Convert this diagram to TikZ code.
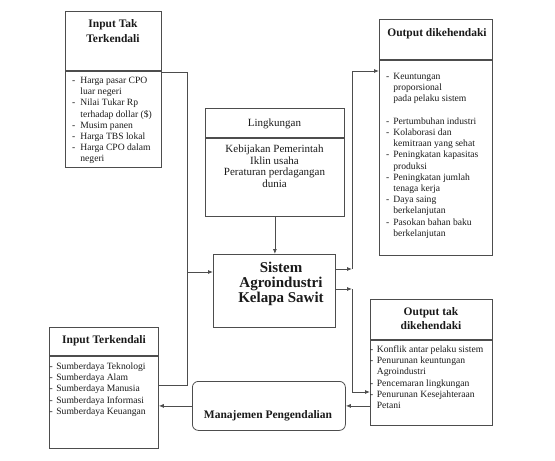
\documentclass[tikz,border=0pt]{standalone}
\usepackage{fontspec}
\setmainfont{Liberation Serif}
\usetikzlibrary{arrows.meta}
\definecolor{ink}{HTML}{4d4d4d}
\definecolor{txt}{HTML}{1a1a1a}
\tikzset{frm/.style={draw=ink, line width=0.8pt, inner sep=0pt, anchor=north west},
         ttl/.style={font=\fontsize{11.5}{15}\selectfont\bfseries, text=txt, align=center, inner sep=0pt, anchor=north},
         lst/.style={font=\fontsize{9.6}{11.2}\selectfont, text=txt, inner sep=0pt, anchor=north west},
         ln/.style={line width=0.8pt, draw=ink},
         arr/.style={-{Latex[length=5pt,width=4pt]}, line width=0.8pt, draw=ink}}
\newcommand{\dashlist}[2]{\begin{tabular}{@{}l@{\hspace{#1}}l@{}}#2\end{tabular}}

\begin{document}
\begin{tikzpicture}[x=1pt, y=-1pt]
\useasboundingbox (0,0) rectangle (555,461);
% input tak terkendali
\node[frm, minimum width=96pt, minimum height=59pt] (itkH) at (65,11) {};
\node[frm, minimum width=96pt, minimum height=96pt] (itkB) at (itkH.south west) {};
\node[ttl] (itkT) at (113,19) {Input Tak\\Terkendali};
\node[lst] (itkL) at (72,75.5) {\dashlist{5pt}{- & Harga pasar CPO\\ & luar negeri\\- & Nilai Tukar Rp\\ & terhadap dollar (\$)\\- & Musim panen\\- & Harga TBS lokal\\- & Harga CPO dalam\\ & negeri}};
% output dikehendaki
\node[frm, minimum width=113pt, minimum height=40pt] (odH) at (379,19) {};
\node[frm, minimum width=113pt, minimum height=195pt] (odB) at (odH.south west) {};
\node[ttl] (odT) at (437,28) {Output dikehendaki};
\node[lst] (odL) at (386,71.5) {\dashlist{4pt}{- & Keuntungan\\ & proporsional\\ & pada pelaku sistem\\ & \\- & Pertumbuhan industri\\- & Kolaborasi dan\\ & kemitraan yang sehat\\- & Peningkatan kapasitas\\ & produksi\\- & Peningkatan jumlah\\ & tenaga kerja\\- & Daya saing\\ & berkelanjutan\\- & Pasokan bahan baku\\ & berkelanjutan}};
% lingkungan
\node[frm, minimum width=139pt, minimum height=29pt] (lkH) at (205,108) {};
\node[frm, minimum width=139pt, minimum height=78pt] (lkB) at (lkH.south west) {};
\node[ttl, font=\fontsize{11}{13}\selectfont] (lkT) at (274.5,119) {Lingkungan};
\node[ttl, font=\fontsize{11}{11.5}\selectfont] (lkL) at (274.5,145) {Kebijakan Pemerintah\\Iklin usaha\\Peraturan perdagangan\\dunia};
% sistem
\node[frm, minimum width=122pt, minimum height=73pt] (sis) at (213,254) {};
\node[ttl, font=\fontsize{15}{15}\selectfont\bfseries] (sisT) at (281,262) {Sistem\\Agroindustri\\Kelapa Sawit};
% output tak dikehendaki
\node[frm, minimum width=122pt, minimum height=40pt] (otH) at (370,299) {};
\node[frm, minimum width=122pt, minimum height=85pt] (otB) at (otH.south west) {};
\node[ttl, font=\fontsize{11.5}{14}\selectfont\bfseries] (otT) at (431,307) {Output tak\\dikehendaki};
\node[lst] (otL) at (370,344.5) {\dashlist{3.5pt}{- & Konflik antar pelaku sistem\\- & Penurunan keuntungan\\ & Agroindustri\\- & Pencemaran lingkungan\\- & Penurunan Kesejahteraan\\ & Petani}};
% input terkendali
\node[frm, minimum width=109pt, minimum height=28pt] (iteH) at (49,327) {};
\node[frm, minimum width=109pt, minimum height=92pt] (iteB) at (iteH.south west) {};
\node[ttl] (iteT) at (104,335) {Input Terkendali};
\node[lst] (iteL) at (49.5,361.5) {\dashlist{3.5pt}{- & Sumberdaya Teknologi\\- & Sumberdaya Alam\\- & Sumberdaya Manusia\\- & Sumberdaya Informasi\\- & Sumberdaya Keuangan}};
% manajemen pengendalian
\node[frm, rounded corners=6pt, minimum width=153pt, minimum height=49pt] (mnj) at (192,381) {};
\node[ttl] (mnjT) at (268,410) {Manajemen Pengendalian};
% left bus
\coordinate (lt) at (187,72);
\coordinate (li) at (187,272);
\coordinate (lb) at (187,385);
\draw[ln] (lt -| itkB.east) -- (lt) -- (lb) -- (lb -| iteB.east);
\draw[arr] (li) -- (li -| sis.west);
\draw[arr] (lkB.south) -- (lkB.south |- sis.north);
% right buses
\coordinate (rt) at (352,71);
\coordinate (rm) at (352,269);
\coordinate (rn) at (352,289);
\coordinate (rb) at (352,392);
\draw[arr] (rm -| sis.east) -- (rm);
\draw[ln] (rm) -- (rt);
\draw[arr] (rt) -- (rt -| odB.west);
\draw[arr] (rn -| sis.east) -- (rn);
\draw[ln] (rn) -- (rb);
\draw[arr] (rb) -- (rb -| otB.west);
% feedback
\draw[arr] (otB.west |- mnj.east) -- (mnj.east);
\draw[arr] (mnj.west) -- (mnj.west -| iteB.east);
\end{tikzpicture}
\end{document}
